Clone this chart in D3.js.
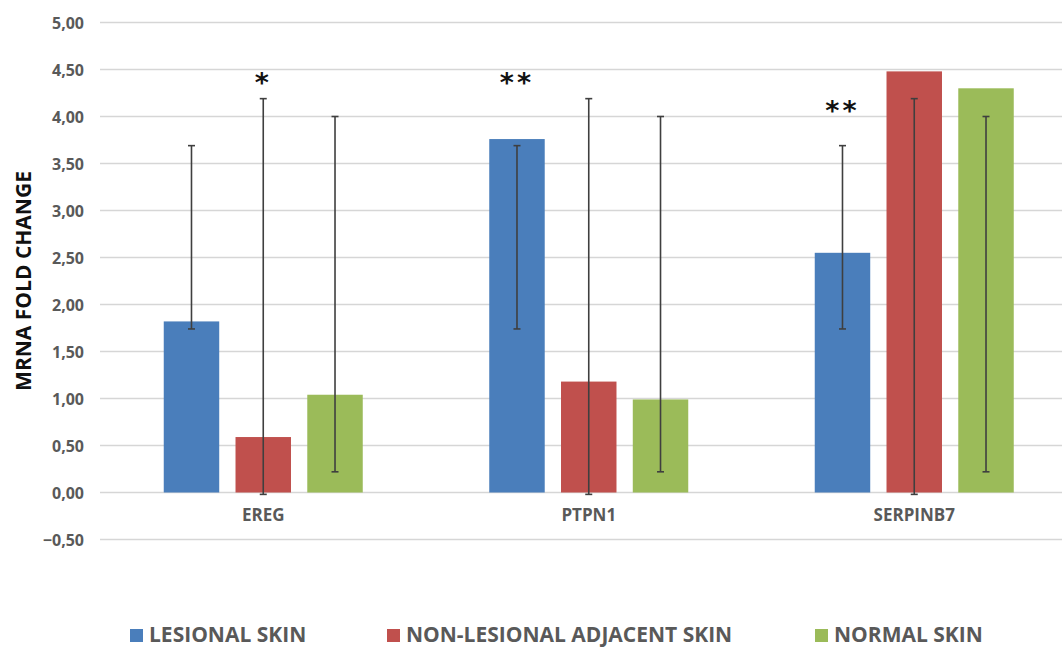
<!DOCTYPE html>
<html>
<head>
<meta charset="utf-8">
<script src="https://cdn.jsdelivr.net/npm/d3@7"></script>
<style>
  html, body { margin: 0; padding: 0; background: #fff; }
  svg { display: block; }
  .lbl { font-family: "Open Sans", "DejaVu Sans", sans-serif; font-weight: 700; }
</style>
</head>
<body>
<svg id="chart" width="1062" height="648"></svg>
<script>
// Genes on the x axis
const genes = ["EREG", "PTPN1", "SERPINB7"];
// Sample groups (one bar per gene each)
const series = ["LESIONAL SKIN", "NON-LESIONAL ADJACENT SKIN", "NORMAL SKIN"];
const seriesColors = ["#4a7ebb", "#c0504d", "#9bbb59"];

// mRNA fold change, indexed [gene][series]
const lesional    = [1.82, 3.76, 2.55];
const nonLesional = [0.59, 1.18, 4.48];
const normal      = [1.04, 0.99, 4.30];

// Error bar ranges per series (lower, upper)
const errLow  = [1.74, -0.02, 0.22];
const errHigh = [3.69, 4.19, 4.00];

// Significance marks: gene, series index, level on the value axis
const sigGene   = ["EREG", "PTPN1", "SERPINB7"];
const sigSeries = [1, 0, 0];
const sigText   = ["*", "**", "**"];
const sigLevel  = [4.47, 4.47, 4.17];

// Y axis ticks
const yTicks = [-0.5, 0, 0.5, 1, 1.5, 2, 2.5, 3, 3.5, 4, 4.5, 5];
const yTitle = "MRNA FOLD CHANGE";

const values = [lesional, nonLesional, normal];
const rows = [];
genes.forEach((g, gi) => series.forEach((s, si) => rows.push({
  gene: g, series: s, si, value: values[si][gi], lo: errLow[si], hi: errHigh[si]
})));

const svg = d3.select("#chart");
const W = 1062, H = 648;

const y = d3.scaleLinear().domain([-0.5, 5]).range([539.5, 22.5]);
const x0 = d3.scaleBand().domain(genes).range([100.5, 1077]).paddingInner(0).paddingOuter(0);
const groupW = 199;
const x1 = d3.scaleBand().domain(series)
  .range([(x0.bandwidth() - groupW) / 2, (x0.bandwidth() + groupW) / 2])
  .paddingInner(0.227).paddingOuter(0);

const comma = d3.formatLocale({ decimal: ",", thousands: ".", grouping: [3], currency: ["", ""] }).format(".2f");

// Gridlines
svg.append("g").selectAll("line").data(yTicks).join("line")
  .attr("x1", 100).attr("x2", W)
  .attr("y1", d => y(d)).attr("y2", d => y(d))
  .attr("stroke", "#d6d6d6").attr("stroke-width", 1.6);

// Y axis labels
const yAxis = d3.axisLeft(y).tickValues(yTicks).tickFormat(comma).tickSize(0).tickPadding(0);
const ya = svg.append("g").attr("transform", "translate(84,0)").call(yAxis);
ya.select(".domain").remove();
ya.selectAll("text").attr("class", "lbl").attr("font-size", 16).attr("fill", "#595959")
  .attr("dy", "0.36em").style("font-family", null);

// Y title
svg.append("text").attr("class", "lbl")
  .attr("transform", "translate(31,281) rotate(-90)")
  .attr("text-anchor", "middle").attr("font-size", 21).attr("fill", "#111")
  .text(yTitle);

// Bars
const groups = svg.append("g").selectAll("g").data(genes).join("g")
  .attr("transform", d => `translate(${x0(d)},0)`);

groups.selectAll("rect").data(g => rows.filter(r => r.gene === g)).join("rect")
  .attr("x", d => x1(d.series))
  .attr("width", x1.bandwidth())
  .attr("y", d => y(Math.max(0, d.value)))
  .attr("height", d => Math.abs(y(d.value) - y(0)))
  .attr("fill", d => seriesColors[d.si]);

// Error bars
const eb = groups.selectAll("g.eb").data(g => rows.filter(r => r.gene === g)).join("g")
  .attr("class", "eb")
  .attr("transform", d => `translate(${x1(d.series) + x1.bandwidth() / 2},0)`);
eb.append("line").attr("y1", d => y(d.lo)).attr("y2", d => y(d.hi))
  .attr("stroke", "#3f3f3f").attr("stroke-width", 1.6);
eb.append("line").attr("x1", -3.5).attr("x2", 3.5).attr("y1", d => y(d.hi)).attr("y2", d => y(d.hi))
  .attr("stroke", "#3f3f3f").attr("stroke-width", 1.6);
eb.append("line").attr("x1", -3.5).attr("x2", 3.5).attr("y1", d => y(d.lo)).attr("y2", d => y(d.lo))
  .attr("stroke", "#3f3f3f").attr("stroke-width", 1.6);

// Significance asterisks
svg.append("g").selectAll("text").data(sigText).join("text")
  .attr("class", "lbl")
  .attr("x", (d, i) => x0(sigGene[i]) + x1(series[sigSeries[i]]) + x1.bandwidth() / 2)
  .attr("y", (d, i) => y(sigLevel[i]))
  .attr("dy", "0.72em")
  .attr("text-anchor", "middle")
  .attr("font-size", 27).attr("letter-spacing", 3).attr("fill", "#111")
  .style("font-family", "'DejaVu Sans', sans-serif")
  .text(d => d);

// Category labels
svg.append("g").selectAll("text").data(genes).join("text")
  .attr("class", "lbl")
  .attr("x", d => x0(d) + x0.bandwidth() / 2)
  .attr("y", 521)
  .attr("text-anchor", "middle").attr("font-size", 17).attr("fill", "#595959")
  .text(d => d);

// Legend
const legendX = [130, 387, 815];
const lg = svg.append("g").selectAll("g").data(series).join("g")
  .attr("transform", (d, i) => `translate(${legendX[i]},629)`);
lg.append("rect").attr("width", 13).attr("height", 13).attr("fill", (d, i) => seriesColors[i]);
lg.append("text").attr("class", "lbl")
  .attr("x", 19).attr("y", 13)
  .attr("font-size", 21).attr("fill", "#595959")
  .style("font-stretch", "94%")
  .text(d => d);
</script>
</body>
</html>
